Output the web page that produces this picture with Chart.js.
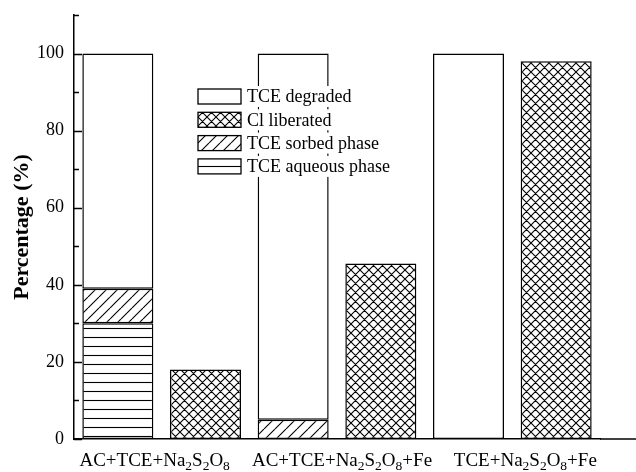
<!DOCTYPE html>
<html><head><meta charset="utf-8">
<script src="https://cdn.jsdelivr.net/npm/chart.js@4"></script>
<style>html,body{margin:0;padding:0;background:#fff}#wrap{width:636px;height:472px}</style>
</head><body><div id="wrap"><canvas id="c" width="636" height="472"></canvas></div>
<script>
// ---- data ----
const categories = ['AC+TCE+Na₂S₂O₈', 'AC+TCE+Na₂S₂O₈+Fe', 'TCE+Na₂S₂O₈+Fe'];
const tceAqueous  = [30, null, null];
const tceSorbed   = [9, 5, null];
const tceDegraded = [61, 95, 100];
const clLiberated = [18, 45.5, 98];
const yTickLabels = [0, 20, 40, 60, 80, 100];
const legendOrder = ['TCE degraded', 'Cl liberated', 'TCE sorbed phase', 'TCE aqueous phase'];

// ---- style ----
const FONT = '"Liberation Serif", "Times New Roman", serif';
const SUB = '₀₁₂₃₄₅₆₇₈₉';
const LABEL_SHIFT = [-7, 5, 13];

function makePattern(type) {
  const c = document.createElement('canvas');
  const g = c.getContext('2d');
  const s = type === 'diag' ? 11 : 9;
  c.width = s; c.height = s;
  g.fillStyle = '#fff'; g.fillRect(0, 0, s, s);
  g.strokeStyle = '#000'; g.lineWidth = 1.1;
  g.beginPath();
  if (type === 'cross') {
    for (let k = -1; k <= 1; k++) {
      g.moveTo(k * s, 0); g.lineTo(k * s + s, s);
      g.moveTo(k * s, s); g.lineTo(k * s + s, 0);
    }
  } else if (type === 'diag') {
    for (let k = -1; k <= 1; k++) { g.moveTo(k * s, s); g.lineTo(k * s + s, 0); }
  } else {
    g.moveTo(0, 4.5); g.lineTo(s, 4.5);
  }
  g.stroke();
  return g.createPattern(c, 'repeat');
}
const pCross = makePattern('cross');
const pDiag = makePattern('diag');
const pHoriz = makePattern('horiz');

const common = { borderColor: '#000', borderWidth: 1.5, borderSkipped: false,
  categoryPercentage: 1.0, barPercentage: 0.81 };

const datasets = [
  Object.assign({ label: 'TCE aqueous phase', data: tceAqueous, stack: 'a', backgroundColor: pHoriz }, common),
  Object.assign({ label: 'TCE sorbed phase', data: tceSorbed, stack: 'a', backgroundColor: pDiag }, common),
  Object.assign({ label: 'TCE degraded', data: tceDegraded, stack: 'a', backgroundColor: '#fff' }, common),
  Object.assign({ label: 'Cl liberated', data: clLiberated, stack: 'b', backgroundColor: pCross }, common)
];

function drawRich(ctx, text, cx, baseY, size, subSize, subDrop) {
  const parts = [];
  for (const ch of text) {
    const idx = SUB.indexOf(ch);
    parts.push(idx >= 0 ? { t: String(idx), sub: true } : { t: ch, sub: false });
  }
  let w = 0;
  parts.forEach(p => { ctx.font = (p.sub ? subSize : size) + 'px ' + FONT; p.w = ctx.measureText(p.t).width; w += p.w; });
  let x = cx - w / 2;
  ctx.textAlign = 'left'; ctx.textBaseline = 'alphabetic';
  parts.forEach(p => {
    ctx.font = (p.sub ? subSize : size) + 'px ' + FONT;
    ctx.fillText(p.t, x, baseY + (p.sub ? subDrop : 0));
    x += p.w;
  });
}

const decor = {
  id: 'decor',
  afterDraw(chart) {
    const ctx = chart.ctx, ca = chart.chartArea, y = chart.scales.y, xs = chart.scales.x;
    ctx.save();
    ctx.strokeStyle = '#000'; ctx.lineWidth = 1.5;
    ctx.beginPath(); ctx.moveTo(ca.right, ca.bottom); ctx.lineTo(chart.width, ca.bottom); ctx.stroke();
    ctx.lineWidth = 1.3;
    ctx.beginPath();
    for (let v = y.min; v <= y.max; v += 10) {
      const py = Math.round(y.getPixelForValue(v)) + 0.5;
      const len = yTickLabels.includes(v) ? 8 : 5;
      ctx.moveTo(ca.left, py); ctx.lineTo(ca.left + len, py);
    }
    ctx.stroke();
    // category labels with subscripts
    ctx.fillStyle = '#000';
    chart.data.labels.forEach((lab, i) => {
      drawRich(ctx, lab, xs.getPixelForValue(i) + LABEL_SHIFT[i], ca.bottom + 27, 19, 13.5, 3.5);
    });
    // legend
    const x0 = 198, top0 = 89, step = 23.3, bw = 43, bh = 15;
    ctx.font = '18px ' + FONT;
    ctx.textBaseline = 'middle';
    legendOrder.forEach((name, i) => {
      const ds = chart.data.datasets.find(d => d.label === name);
      const ty = top0 + i * step;
      const tw = ctx.measureText(name).width;
      ctx.fillStyle = '#fff';
      ctx.fillRect(x0 - 2, ty - 3, bw + 8 + tw + 4, bh + 6);
      ctx.fillStyle = ds.backgroundColor;
      ctx.fillRect(x0, ty, bw, bh);
      ctx.lineWidth = 1.3; ctx.strokeStyle = '#000';
      ctx.strokeRect(x0, ty, bw, bh);
      ctx.fillStyle = '#000';
      ctx.fillText(name, x0 + bw + 6, ty + bh / 2 + 1);
    });
    ctx.restore();
  }
};

new Chart(document.getElementById('c'), {
  type: 'bar',
  data: { labels: categories, datasets },
  options: {
    responsive: false, animation: false, devicePixelRatio: 1,
    layout: { padding: { top: 15, right: 36, left: 0, bottom: 0 } },
    plugins: { legend: { display: false }, tooltip: { enabled: false } },
    scales: {
      x: {
        stacked: true,
        grid: { display: false, drawTicks: false },
        border: { display: true, color: '#000', width: 1.5 },
        ticks: { display: false },
        afterFit: s => { s.height = 33; s.paddingLeft = 0; s.paddingRight = 0; }
      },
      y: {
        stacked: true, min: 0, max: 110,
        grid: { display: false, drawTicks: false },
        border: { display: true, color: '#000', width: 1.5 },
        ticks: { stepSize: 10, color: '#000', padding: 10, font: { family: FONT, size: 18 },
          callback: v => yTickLabels.includes(v) ? String(v) : '' },
        title: { display: true, text: 'Percentage (%)', color: '#000',
          font: { family: FONT, size: 22, weight: 'bold' }, padding: { top: 9, bottom: 0 } },
        afterFit: s => { s.width = 74; s.paddingTop = 0; s.paddingBottom = 0; }
      }
    }
  },
  plugins: [decor]
});
</script>
</body></html>
